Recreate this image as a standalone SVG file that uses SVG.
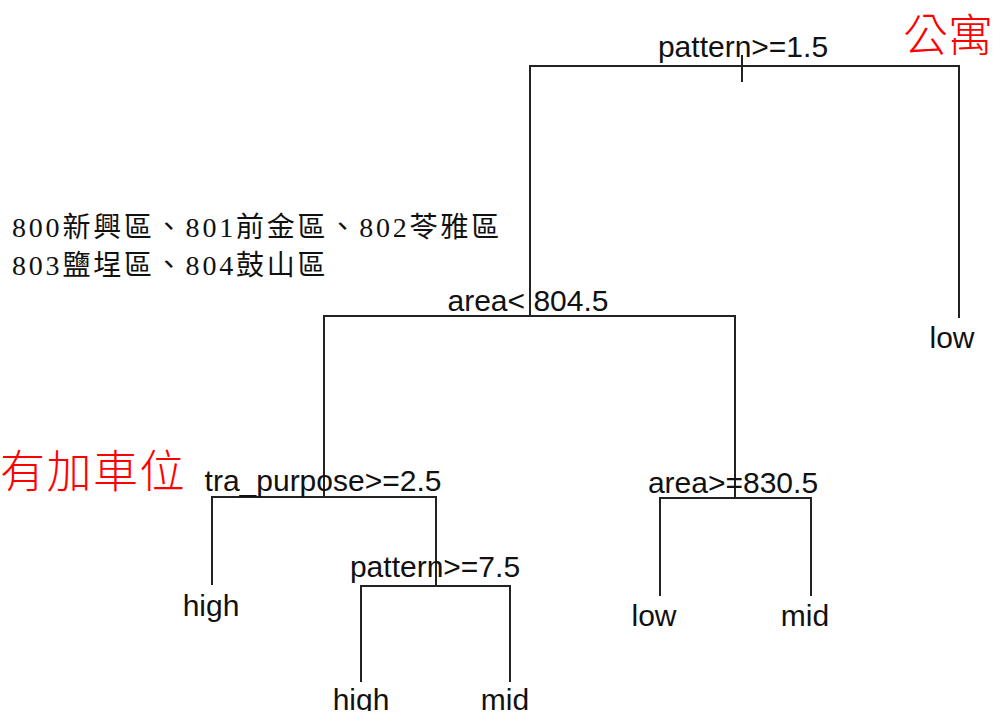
<svg xmlns="http://www.w3.org/2000/svg" width="999" height="721" viewBox="0 0 999 721">
<style>
.e{stroke:#222;stroke-width:2;fill:none}
.l{font-family:"Liberation Sans",Arial,sans-serif;font-size:30px;fill:#111;text-anchor:middle}
.z{font-family:"Liberation Serif","Noto Sans CJK TC",serif;font-size:28px;fill:#111;letter-spacing:2.8px}
.r{font-family:"Noto Sans CJK TC",sans-serif;font-size:45px;font-weight:300;fill:#ff0000}
</style>
<defs><clipPath id="c"><rect x="0" y="0" width="999" height="711"/></clipPath></defs>
<rect width="999" height="721" fill="#fff"/>
<g id="connectors">
<path class="e" d="M742 55V82M530 316V66H959V318"/>
<path class="e" d="M324 497V316H735V497"/>
<path class="e" d="M212 585V497H436V586"/>
<path class="e" d="M361 682V586H510V682"/>
<path class="e" d="M660 596V498H811V596"/>
</g>
<g id="n_root"><text class="l" x="743" y="57">pattern&gt;=1.5</text></g>
<g id="n_low1"><text class="l" x="952" y="348">low</text></g>
<g id="n_area1"><text class="l" x="528" y="311">area&lt; 804.5</text></g>
<g id="n_tra"><text class="l" x="323" y="491">tra_purpose&gt;=2.5</text></g>
<g id="n_area2"><text class="l" x="733" y="493">area&gt;=830.5</text></g>
<g id="n_high1"><text class="l" x="211" y="616">high</text></g>
<g id="n_pat2"><text class="l" x="435" y="577">pattern&gt;=7.5</text></g>
<g id="n_low2"><text class="l" x="654" y="626">low</text></g>
<g id="n_mid1"><text class="l" x="805" y="626">mid</text></g>
<g id="n_bottom" clip-path="url(#c)">
<text class="l" x="361" y="710">high</text>
<text class="l" x="505" y="710">mid</text>
</g>
<g id="notes">
<text class="z" x="12" y="237">800新興區、801前金區、802苓雅區</text>
<text class="z" x="12" y="275">803鹽埕區、804鼓山區</text>
<text class="r" x="903" y="52" font-size="44">公寓</text>
<text class="r" x="0" y="488" letter-spacing="1.5">有加車位</text>
</g>
</svg>
